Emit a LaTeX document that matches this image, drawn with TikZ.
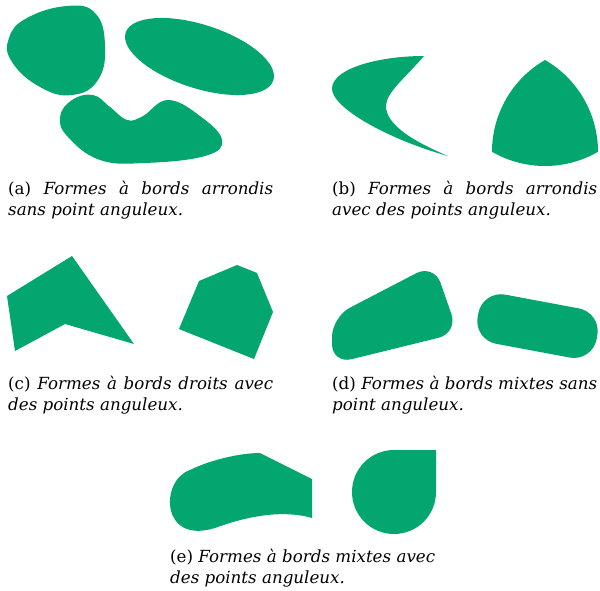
\documentclass[tikz,border=0pt]{standalone}
\usepackage{fontspec}
\setmainfont{DejaVu Serif}
\usepackage{xcolor}
\usepackage{tikz}
\usetikzlibrary{positioning}
\definecolor{shapegreen}{RGB}{2,166,110}

\begin{document}
\begin{tikzpicture}[x=1pt,y=-1pt,font=\fontsize{16.7}{21.4}\selectfont]
\tikzset{blob/.style={fill=shapegreen,draw=none},
  subcap/.style={text width=265pt,align=justify,anchor=base west,inner sep=0pt}}
\useasboundingbox (0,0) rectangle (600,591);
% (a) rounded, no corner
\fill[blob] plot[smooth cycle,tension=0.75] coordinates {(67,6) (95,13) (105,45) (98,80) (72,95) (40,87) (12,62) (9,38) (27,18)};
\fill[blob,rotate around={-17.9:(199.5,56.5)}] (199.5,56.5) ellipse[x radius=77.6,y radius=31.8];
\fill[blob] plot[smooth cycle,tension=0.7] coordinates {(93,95) (110,107) (127,120) (143,116) (168,100) (200,116) (222,140) (205,156) (145,163) (100,160) (68,137) (60,117) (72,100)};
\node[subcap] (capa) at (8,194) {(a) \textit{Formes à bords arrondis sans point anguleux.}};
% (b) rounded, with corners
\fill[blob] (424,56) .. controls (380,56) and (333,68) .. (332,88)
  .. controls (331,108) and (390,140) .. (448,156)
  .. controls (415,142) and (385,125) .. (386,105)
  .. controls (387,92) and (405,78) .. (424,56) -- cycle;
\fill[blob] (545,60) arc[start angle=-60,end angle=0,radius=106]
  arc[start angle=60,end angle=120,radius=106]
  arc[start angle=180,end angle=240,radius=106] -- cycle;
\node[subcap] (capb) at (332,194) {(b) \textit{Formes à bords arrondis avec des points anguleux.}};
% (c) straight edges
\fill[blob] (7,296) -- (72,256) -- (134,344) -- (65,324) -- (15,351) -- cycle;
\fill[blob] (199,281) -- (237,265) -- (257,273) -- (273,312) -- (254,359) -- (179,329) -- cycle;
\node[subcap] (capc) at (8,389) {(c) \textit{Formes à bords droits avec des points anguleux.}};
% (d) mixed, no corner
\fill[blob,rounded corners=20pt] (332,317) -- (434,264) -- (458,333) -- (332,364) -- cycle;
\fill[blob,rotate around={-10.6:(537,326)}] [rounded corners=23pt] (477,301) rectangle (598,351);
\node[subcap] (capd) at (332,389) {(d) \textit{Formes à bords mixtes sans point anguleux.}};
% (e) mixed, with corners
\fill[blob] (312,479) -- (312,518) .. controls (285,510) and (250,515) .. (215,528)
  .. controls (160,545) and (160,480) .. (190,470)
  .. controls (210,460) and (240,453) .. (260,453) -- cycle;
\fill[blob] (394,450) -- (436,450) -- (436,492) arc[start angle=0,end angle=270,radius=42] -- cycle;
\node[subcap] (cape) at (170,562) {(e) \textit{Formes à bords mixtes avec des points anguleux.}};
\end{tikzpicture}
\end{document}
